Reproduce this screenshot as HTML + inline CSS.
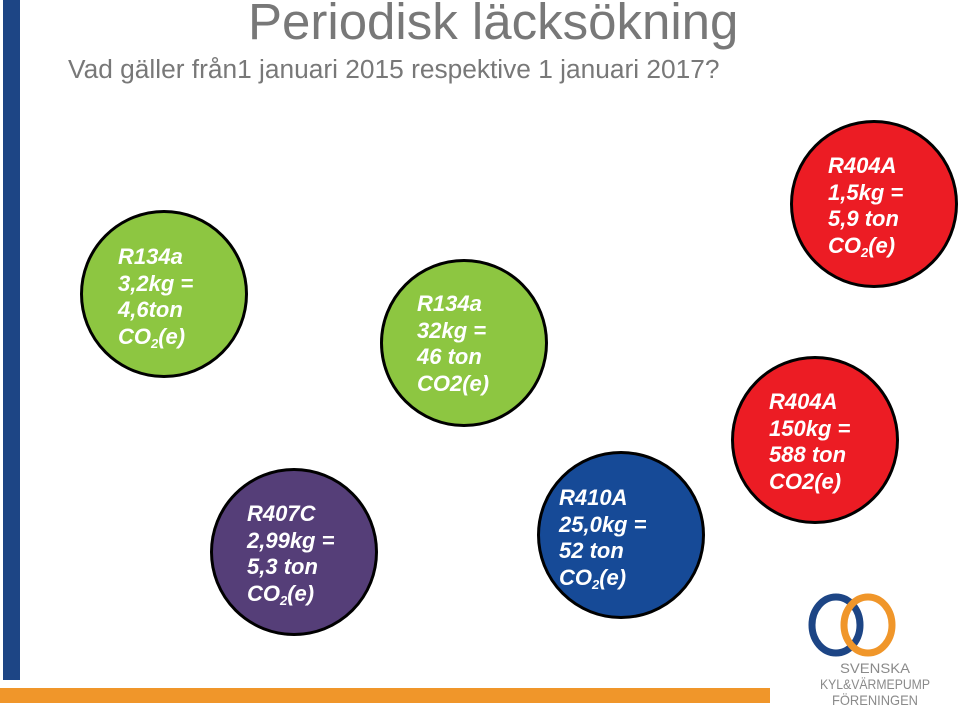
<!DOCTYPE html>
<html><head><meta charset="utf-8"><style>
html,body{margin:0;padding:0;background:#fff;}
body{width:960px;height:716px;position:relative;overflow:hidden;font-family:"Liberation Sans",sans-serif;}
.t{position:absolute;color:#787878;white-space:nowrap;}
.c{position:absolute;width:168px;height:168px;border-radius:50%;border:3.5px solid #000;box-sizing:border-box;}
.tx{position:absolute;color:#fff;font-weight:bold;font-style:italic;font-size:22px;line-height:26.5px;white-space:nowrap;}
sub{font-size:13px;vertical-align:-4px;line-height:0;}
</style></head><body>
<div style="position:absolute;left:3px;top:0;width:17px;height:680px;background:#1d4585;"></div>
<div style="position:absolute;left:0;top:688px;width:770px;height:15px;background:#f0962a;"></div>
<div class="t" style="left:248px;top:-8px;font-size:51px;">Periodisk läcksökning</div>
<div class="t" style="left:68px;top:54px;font-size:26.3px;">Vad gäller från1 januari 2015 respektive 1 januari 2017?</div>

<div class="c" style="left:80px;top:210px;background:#8dc641;"></div>
<div class="tx" style="left:118px;top:244px;">R134a<br>3,2kg =<br>4,6ton<br>CO<sub>2</sub>(e)</div>

<div class="c" style="left:210px;top:468px;background:#553e78;"></div>
<div class="tx" style="left:247px;top:501px;">R407C<br>2,99kg =<br>5,3 ton<br>CO<sub>2</sub>(e)</div>

<div class="c" style="left:380px;top:259px;background:#8dc641;"></div>
<div class="tx" style="left:417px;top:291px;">R134a<br>32kg =<br>46 ton<br>CO2(e)</div>

<div class="c" style="left:537px;top:451px;background:#164a97;"></div>
<div class="tx" style="left:559px;top:485px;">R410A<br>25,0kg =<br>52 ton<br>CO<sub>2</sub>(e)</div>

<div class="c" style="left:790px;top:120px;background:#ec1c24;"></div>
<div class="tx" style="left:828px;top:153px;">R404A<br>1,5kg =<br>5,9 ton<br>CO<sub>2</sub>(e)</div>

<div class="c" style="left:731px;top:356px;background:#ec1c24;"></div>
<div class="tx" style="left:769px;top:389px;">R404A<br>150kg =<br>588 ton<br>CO2(e)</div>

<svg style="position:absolute;left:780px;top:590px;" width="180" height="126">
<ellipse cx="56" cy="35" rx="24" ry="28" fill="none" stroke="#1d4585" stroke-width="7"/>
<ellipse cx="88" cy="35" rx="24" ry="28" fill="none" stroke="#f0962a" stroke-width="7"/>
<text x="95" y="83" font-family="Liberation Sans, sans-serif" font-size="14" fill="#8a8a8a" text-anchor="middle" textLength="70" lengthAdjust="spacingAndGlyphs">SVENSKA</text>
<text x="95" y="99" font-family="Liberation Sans, sans-serif" font-size="14" fill="#8a8a8a" text-anchor="middle" textLength="110" lengthAdjust="spacingAndGlyphs">KYL&amp;VÄRMEPUMP</text>
<text x="95" y="115" font-family="Liberation Sans, sans-serif" font-size="14" fill="#8a8a8a" text-anchor="middle" textLength="86" lengthAdjust="spacingAndGlyphs">FÖRENINGEN</text>
</svg>
</body></html>
